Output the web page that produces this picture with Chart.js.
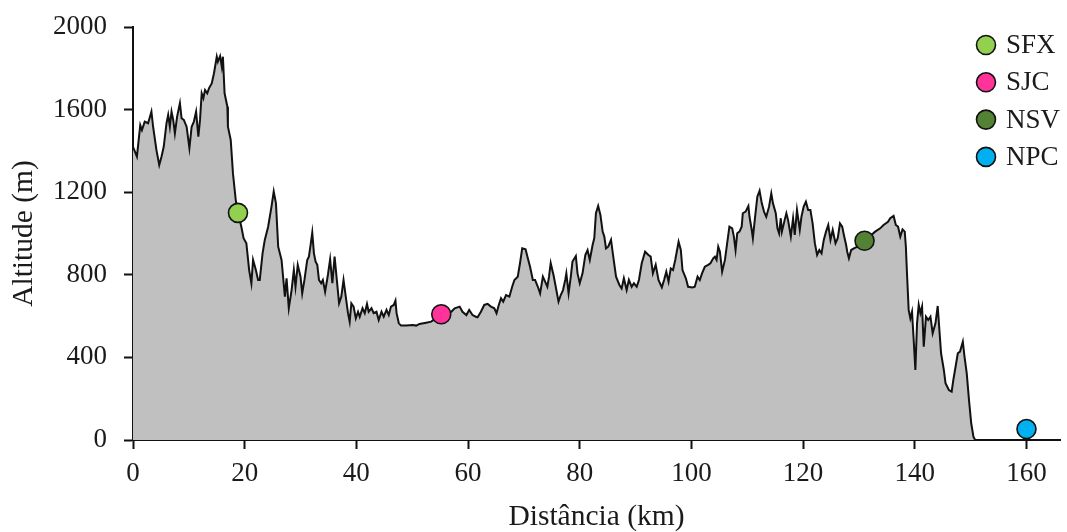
<!DOCTYPE html>
<html>
<head>
<meta charset="utf-8">
<script src="https://cdn.jsdelivr.net/npm/chart.js@4/dist/chart.umd.min.js"></script>
<style>
  html, body { margin: 0; padding: 0; background: #fff; }
  #wrap { width: 1067px; height: 532px; }
</style>
</head>
<body>
<div id="wrap"><canvas id="profile"></canvas></div>
<script>
// elevation profile
const distKm = [
  0.0, 0.7, 1.3, 1.6, 2.1, 2.7, 3.3, 3.6, 4.2, 4.7, 5.1, 5.5, 6.0, 6.3, 6.6, 6.9, 7.2, 7.5, 7.9, 8.4,
  8.7, 9.1, 9.6, 10.1, 10.5, 10.9, 11.3, 11.7, 12.0, 12.3, 12.6, 12.9, 13.3, 13.6, 14.1, 14.5, 15.0, 15.2, 15.6, 15.9,
  16.1, 16.4, 16.9, 17.0, 17.5, 17.9, 18.4, 18.8, 19.4, 19.8, 20.3, 20.8, 21.2, 21.5, 22.0, 22.4, 22.7, 23.2, 23.6, 24.2,
  24.8, 25.2, 25.6, 26.0, 26.6, 27.2, 27.5, 27.9, 28.4, 28.8, 29.1, 29.5, 30.0, 30.3, 30.7, 31.2, 31.5, 31.8, 32.1, 32.4,
  32.7, 33.0, 33.3, 33.7, 34.0, 34.4, 34.9, 35.3, 35.7, 36.1, 36.5, 36.9, 37.3, 37.7, 38.1, 38.5, 38.8, 39.1, 39.5, 39.9,
  40.3, 40.6, 41.1, 41.5, 41.9, 42.2, 42.7, 43.1, 43.6, 44.0, 44.5, 44.9, 45.4, 45.8, 46.2, 46.7, 47.0, 47.2, 47.6, 48.0,
  48.9, 50.1, 50.7, 51.3, 52.5, 53.4, 55.2, 57.0, 57.6, 58.5, 59.0, 59.7, 60.2, 60.8, 61.4, 61.7, 62.3, 62.9, 63.5, 64.1,
  64.7, 65.1, 65.5, 65.9, 66.3, 66.8, 67.4, 67.9, 68.3, 68.9, 69.3, 69.7, 70.3, 70.7, 71.1, 71.6, 72.0, 72.5, 72.9, 73.4,
  73.8, 74.2, 74.5, 74.8, 75.3, 75.7, 76.2, 76.6, 77.0, 77.4, 77.6, 78.0, 78.4, 78.7, 79.3, 79.6, 80.0, 80.5, 81.0, 81.4,
  81.8, 82.3, 82.6, 82.9, 83.3, 83.7, 84.1, 84.4, 84.7, 85.1, 85.6, 86.0, 86.5, 87.1, 87.5, 87.9, 88.4, 88.8, 89.3, 89.7,
  90.2, 90.6, 91.1, 91.7, 92.3, 92.7, 93.1, 93.6, 94.1, 94.7, 95.1, 95.5, 95.9, 96.3, 96.7, 97.1, 97.7, 98.1, 98.4, 99.0,
  99.4, 100.2, 100.6, 101.1, 101.5, 101.9, 102.4, 103.0, 103.4, 103.9, 104.2, 104.5, 104.8, 105.1, 105.5, 106.0, 106.4, 106.8, 107.3, 107.6,
  107.9, 108.2, 108.6, 109.0, 109.2, 109.7, 110.2, 110.4, 110.8, 111.0, 111.4, 111.8, 112.2, 112.6, 113.0, 113.4, 113.9, 114.3, 114.6, 115.1,
  115.4, 115.7, 116.0, 116.2, 116.7, 117.0, 117.3, 117.8, 118.2, 118.5, 118.9, 119.4, 119.7, 120.1, 120.5, 120.9, 121.3, 121.7, 122.1, 122.5,
  122.9, 123.3, 123.7, 124.1, 124.5, 124.9, 125.3, 125.8, 126.2, 126.6, 127.0, 127.3, 127.7, 127.9, 128.2, 128.6, 129.1, 130.0, 131.0, 131.9,
  132.9, 133.8, 134.4, 135.2, 135.6, 136.2, 136.6, 137.0, 137.4, 137.8, 138.2, 138.4, 138.6, 138.9, 139.2, 139.5, 139.8, 140.1, 140.4, 140.7,
  141.0, 141.3, 141.6, 142.0, 142.4, 142.8, 143.2, 143.7, 144.1, 144.4, 144.7, 145.2, 145.5, 146.1, 146.6, 146.9, 147.2, 147.7, 148.1, 148.6,
  148.9, 149.3, 149.7, 150.1, 150.5, 150.8
];
const altitudeM = [
  1420, 1372, 1525, 1501, 1542, 1534, 1590, 1517, 1404, 1332, 1372, 1420, 1534, 1574, 1517, 1590, 1550, 1485, 1566, 1631,
  1558, 1550, 1517, 1413, 1517, 1542, 1590, 1469, 1550, 1679, 1655, 1695, 1679, 1703, 1727, 1776, 1856, 1832, 1859, 1808,
  1856, 1679, 1614, 1517, 1453, 1291, 1162, 1100, 1033, 977, 953, 823, 759, 872, 823, 775, 775, 904, 969, 1033,
  1130, 1203, 1146, 936, 872, 694, 783, 638, 726, 823, 742, 848, 791, 710, 775, 872, 888, 944, 1004, 904,
  864, 848, 775, 759, 775, 718, 799, 875, 759, 888, 775, 662, 694, 775, 694, 614, 573, 662, 646, 589,
  621, 597, 638, 614, 659, 621, 638, 614, 621, 581, 621, 597, 630, 605, 646, 654, 675, 614, 565, 554,
  554, 557, 554, 562, 568, 573, 609, 621, 638, 646, 621, 605, 630, 605, 597, 594, 621, 654, 659, 646,
  638, 614, 654, 686, 670, 702, 694, 742, 775, 791, 856, 928, 923, 880, 839, 775, 775, 742, 710, 791,
  767, 742, 791, 856, 799, 742, 670, 702, 726, 775, 807, 710, 791, 864, 891, 807, 759, 807, 896, 920,
  872, 944, 977, 1098, 1133, 1090, 1009, 985, 928, 936, 969, 888, 791, 751, 734, 783, 726, 775, 742, 759,
  742, 775, 856, 912, 896, 888, 807, 848, 775, 739, 775, 815, 767, 831, 823, 872, 960, 920, 823, 783,
  742, 739, 742, 791, 775, 807, 839, 848, 856, 880, 888, 872, 936, 912, 815, 872, 953, 1033, 1025, 985,
  920, 1001, 1009, 1033, 1098, 1106, 1133, 1081, 1017, 977, 1081, 1178, 1207, 1146, 1106, 1081, 1130, 1194, 1146, 1098,
  1025, 1001, 1074, 1009, 1066, 1098, 1066, 985, 1074, 993, 1114, 1017, 1081, 1130, 1154, 1114, 1114, 1049, 953, 896,
  920, 904, 969, 1009, 1041, 969, 1017, 953, 977, 1049, 1033, 993, 944, 912, 880, 920, 928, 940, 965, 985,
  1009, 1025, 1041, 1057, 1074, 1085, 1041, 1033, 985, 1020, 1009, 936, 807, 630, 589, 621, 484, 339, 565, 654,
  614, 646, 452, 597, 581, 597, 517, 565, 649, 533, 420, 339, 275, 242, 234, 291, 339, 420, 428, 476,
  404, 323, 194, 81, 16, 0
];

const stationNames = ["SFX", "SJC", "NSV", "NPC"];
const stationKm = [18.8, 55.2, 131.0, 160.0];
const stationAlt = [1100, 609, 965, 53];
const stationColors = ["#92d050", "#ff3399", "#548235", "#00b0f0"];

const xTicks = [0, 20, 40, 60, 80, 100, 120, 140, 160];
const yTicks = [0, 400, 800, 1200, 1600, 2000];

const serif = "'Liberation Serif', 'Times New Roman', serif";
const ink = "#1a1a1a";

const datasets = stationNames.map((name, i) => ({
  type: "line",
  label: name,
  data: [{ x: stationKm[i], y: stationAlt[i] }],
  showLine: false,
  pointRadius: 9.5,
  pointHoverRadius: 9.5,
  pointBackgroundColor: stationColors[i],
  pointBorderColor: "#111",
  pointBorderWidth: 1.6,
  order: 0
}));
datasets.push({
  type: "line",
  label: "perfil",
  data: distKm.map((d, i) => ({ x: d, y: altitudeM[i] })),
  borderColor: "#111",
  borderWidth: 2,
  backgroundColor: "#c0c0c0",
  fill: "origin",
  pointRadius: 0,
  tension: 0,
  order: 10
});

// legend drawn in the upper right corner of the plot
const stationLegend = {
  id: "stationLegend",
  afterDraw(chart) {
    const ctx = chart.ctx;
    ctx.save();
    ctx.font = "27px " + serif;
    ctx.textBaseline = "middle";
    ctx.textAlign = "left";
    stationNames.forEach((name, i) => {
      const cy = 45 + i * 37.3;
      ctx.beginPath();
      ctx.arc(986, cy, 9.5, 0, Math.PI * 2);
      ctx.fillStyle = stationColors[i];
      ctx.fill();
      ctx.lineWidth = 1.6;
      ctx.strokeStyle = "#111";
      ctx.stroke();
      ctx.fillStyle = ink;
      ctx.fillText(name, 1006, cy + 1);
    });
    ctx.restore();
  }
};

// keep the plot box where the picture has it
function noEdgePadding(s) {
  s.paddingTop = 0;
  s.paddingBottom = 0;
  s.paddingLeft = 0;
  s.paddingRight = 0;
}

new Chart(document.getElementById("profile"), {
  type: "line",
  data: { datasets: datasets },
  plugins: [stationLegend],
  options: {
    responsive: true,
    maintainAspectRatio: false,
    animation: false,
    layout: { autoPadding: false, padding: { left: 0, right: 7, top: 27, bottom: 0 } },
    plugins: { legend: { display: false }, tooltip: { enabled: false } },
    scales: {
      x: {
        type: "linear",
        min: 0,
        max: 166,
        afterFit: s => { s.height = 92; noEdgePadding(s); },
        afterBuildTicks: s => { s.ticks = xTicks.map(v => ({ value: v })); },
        border: { display: true, color: "#111", width: 2 },
        grid: { display: true, drawOnChartArea: false, tickLength: 9, tickColor: "#111", tickWidth: 2 },
        ticks: { color: ink, padding: 9, font: { family: serif, size: 27 }, callback: v => String(v) },
        title: {
          display: true, text: "Distância (km)", color: ink,
          font: { family: serif, size: 29.5, lineHeight: 1 }, padding: { top: 0, bottom: 0 }
        }
      },
      y: {
        min: 0,
        max: 2000,
        afterFit: s => { s.width = 133; noEdgePadding(s); },
        afterBuildTicks: s => { s.ticks = yTicks.map(v => ({ value: v })); },
        border: { display: true, color: "#111", width: 2 },
        grid: { display: true, drawOnChartArea: false, tickLength: 9, tickColor: "#111", tickWidth: 2 },
        ticks: { color: ink, padding: 17, font: { family: serif, size: 27 }, callback: v => String(v) },
        title: {
          display: true, text: "Altitude (m)", color: ink,
          font: { family: serif, size: 29.5, lineHeight: 1 }, padding: { top: 9.5, bottom: 0 }
        }
      }
    }
  }
});
</script>
</body>
</html>
